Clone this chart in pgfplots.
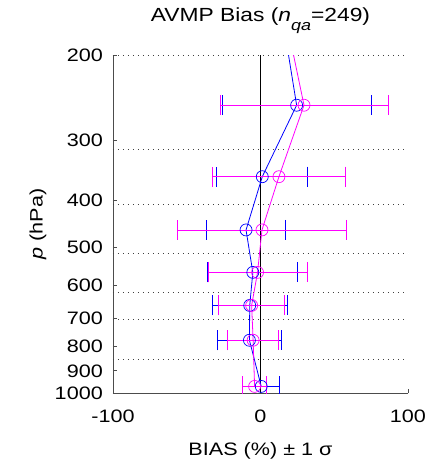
\documentclass[border=0pt]{standalone}
\usepackage{fontspec}
\setmainfont{Liberation Sans}[FakeStretch=1.2]
\usepackage{pgfplots}
\pgfplotsset{compat=1.18}
\definecolor{mg}{RGB}{255,0,255}
\definecolor{bl}{RGB}{0,0,255}

% p (hPa), bias (%), sigma (%)
\pgfplotstableread{
p    b     e
254  24.5  50.5
357  1.2   30.8
460  -9.8  26.6
563  -5.2  30.5
659  -7.3  25.2
778  -7.5  21.6
969  0.5   12.5
}\blueset
\pgfplotstableread{
p    b     e
254  29.5  57
357  12.5  45
460  1.0   57
563  -2.0  33.5
659  -6.0  22.4
778  -5.0  17.3
969  -4.0  8
}\magset

\begin{document}
\fontsize{18}{21}\selectfont
\begin{tikzpicture}
\begin{axis}[
    scale only axis,
    width=295pt, height=338pt,
    axis lines=left,
    axis line style={-, draw=black!70, line width=0.8pt},
    tick style={draw=black!70, line width=0.8pt},
    tick align=inside,
    major tick length=4pt,
    xmin=-100, xmax=100,
    xtick={-100,0,100},
    xticklabels={-100,0,100},
    ymode=log, y dir=reverse,
    ymin=200, ymax=1000,
    ytick={200,300,400,500,600,700,800,900,1000},
    yticklabels={200,300,400,500,600,700,800,900,1000},
    yminorticks=false,
    extra y ticks={200,313,407,514,618,705,853},
    extra y tick labels={},
    extra y tick style={major tick length=0pt, grid=major,
        major grid style={draw=black!75, line width=0.8pt, dash pattern=on 0.9pt off 4.1pt}},
    /pgf/number format/assume math mode=true,
    xticklabel style={anchor=base, yshift=-29pt},
    yticklabel style={anchor=east, xshift=-4pt},
    title={AVMP Bias (\textit{n}\raisebox{-9pt}{\fontsize{15}{15}\selectfont\textit{qa}}=249)},
    title style={at={(0.5,1)}, anchor=base, yshift=28pt, font=\fontsize{19}{21}\selectfont},
    xlabel={BIAS (\%) ± 1 σ},
    xlabel style={at={(axis description cs:0.5,0)}, anchor=base, yshift=-62pt},
    ylabel={\textit{p} (hPa)},
    ylabel style={at={(axis description cs:-0.254,0.5)}, anchor=center},
    clip=true,
]
\addplot[black, line width=0.8pt] coordinates {(0,200) (0,1000)};

% blue series
\addplot[bl, line width=0.8pt] coordinates {
    (19,200) (24.5,254) (1.2,357) (-9.8,460) (-5.2,563) (-7.3,659) (-7.5,778) (0.5,969)};
\addplot[bl, only marks, mark=o, mark size=6pt, mark options={line width=0.7pt},
    error bars/.cd, x dir=both, x explicit,
    error mark options={bl, mark size=10pt, line width=0.8pt, rotate=90},
    error bar style={line width=0.8pt}]
    table[x=b, y=p, x error=e] {\blueset};

% magenta series
\addplot[mg, line width=0.8pt] coordinates {
    (22.4,200) (29.5,254) (12.5,357) (1.0,460) (-2.0,563) (-6.0,659) (-5.0,778) (-4.0,969)};
\addplot[mg, only marks, mark=o, mark size=6pt, mark options={line width=0.7pt},
    error bars/.cd, x dir=both, x explicit,
    error mark options={mg, mark size=10pt, line width=0.8pt, rotate=90},
    error bar style={line width=0.8pt}]
    table[x=b, y=p, x error=e] {\magset};
\end{axis}
\pgfresetboundingbox
\path ([shift={(-113pt,-68pt)}]current axis.south west) rectangle ++(440pt,461pt);
\end{tikzpicture}
\end{document}
